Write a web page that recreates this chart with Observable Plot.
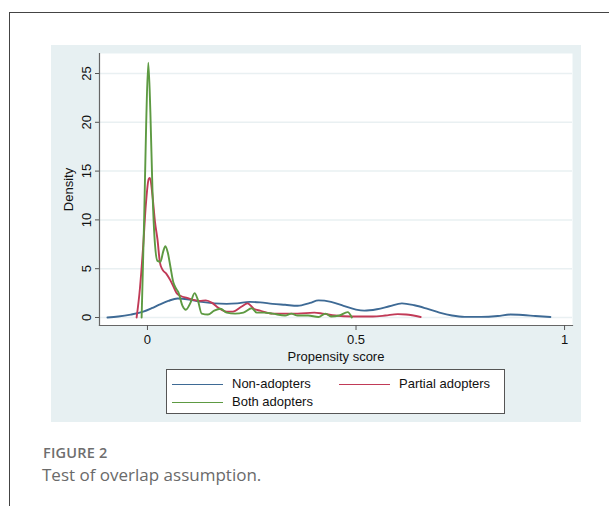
<!DOCTYPE html>
<html>
<head>
<meta charset="utf-8">
<script src="https://cdn.jsdelivr.net/npm/d3@7"></script>
<script src="https://cdn.jsdelivr.net/npm/@observablehq/plot@0.6"></script>
<style>
  html, body { margin: 0; padding: 0; background: #fff; }
  #page { position: relative; width: 609px; height: 506px; overflow: hidden; font-family: "Liberation Sans", Arial, sans-serif; }
  #frameTop { position: absolute; left: 9px; top: 12px; width: 620px; height: 0; border-top: 1.5px solid #444; }
  #frameLeft { position: absolute; left: 9px; top: 12px; width: 0; height: 520px; border-left: 1.5px solid #444; }
  #panel { position: absolute; left: 51px; top: 45px; width: 530px; height: 377px; background: #e7f0f2; }
  #panel svg text { font-size: 13px; }
  #legend { position: absolute; left: 166px; top: 369px; width: 337px; height: 43px; background: #fff; border: 1px solid #555; font-size: 13px; color: #111; }
  .item { position: absolute; height: 16px; line-height: 16px; white-space: nowrap; }
  .swatch { position: absolute; top: 8px; width: 51px; height: 0; border-top: 1.5px solid; }
  .item span { position: absolute; left: 60px; top: 0; }
  #figlabel { position: absolute; left: 43px; top: 443px; font-family: "Open Sans", sans-serif; font-weight: 600; font-size: 14.5px; color: #6e6e6e; letter-spacing: 0.2px; }
  #figcaption { position: absolute; left: 42px; top: 463px; font-family: "Open Sans", sans-serif; font-weight: 400; font-size: 17px; color: #6a6a6a; }
</style>
</head>
<body>
<div id="page">
  <div id="frameTop"></div>
  <div id="frameLeft"></div>
  <div id="panel"></div>
  <div id="legend"></div>
  <div id="figlabel">FIGURE 2</div>
  <div id="figcaption">Test of overlap assumption.</div>
</div>
<script>
// ---- Data ----
const seriesNames = ["Non-adopters", "Partial adopters", "Both adopters"];
const seriesColors = ["#3e6a95", "#c13a57", "#5d9a42"];

const nonX = [-0.096, -0.07, -0.04, -0.01, 0.01, 0.03, 0.05, 0.072, 0.1, 0.13, 0.16, 0.19, 0.215, 0.245, 0.27, 0.3, 0.33, 0.36, 0.39, 0.41, 0.44, 0.47, 0.5, 0.52, 0.55, 0.58, 0.61, 0.64, 0.67, 0.7, 0.73, 0.76, 0.8, 0.84, 0.87, 0.9, 0.93, 0.966];
const nonY = [0, 0.1, 0.3, 0.6, 0.95, 1.35, 1.7, 1.95, 1.85, 1.6, 1.45, 1.4, 1.45, 1.6, 1.55, 1.4, 1.3, 1.2, 1.5, 1.75, 1.6, 1.2, 0.8, 0.7, 0.85, 1.15, 1.45, 1.25, 0.9, 0.5, 0.2, 0.06, 0.06, 0.15, 0.3, 0.25, 0.15, 0.05];

const partialX = [-0.026, -0.018, -0.01, -0.004, 0.003, 0.006, 0.012, 0.018, 0.024, 0.03, 0.036, 0.045, 0.055, 0.062, 0.07, 0.08, 0.095, 0.11, 0.125, 0.14, 0.155, 0.17, 0.19, 0.205, 0.225, 0.24, 0.255, 0.27, 0.3, 0.33, 0.36, 0.4, 0.42, 0.45, 0.49, 0.54, 0.57, 0.6, 0.62, 0.655];
const partialY = [0, 3, 7.5, 11.5, 14.2, 14.3, 12.5, 9.8, 8, 5.6, 4.9, 4.5, 3.8, 3.2, 2.5, 2.2, 2.0, 1.8, 1.7, 1.75, 1.5, 1.0, 0.6, 0.6, 1.1, 1.45, 0.9, 0.7, 0.4, 0.4, 0.4, 0.5, 0.4, 0.2, 0.1, 0.1, 0.2, 0.35, 0.3, 0.05];

const bothX = [-0.014, -0.008, -0.003, 0.002, 0.007, 0.012, 0.018, 0.024, 0.031, 0.038, 0.043, 0.049, 0.055, 0.062, 0.068, 0.074, 0.084, 0.092, 0.103, 0.113, 0.12, 0.13, 0.145, 0.16, 0.175, 0.19, 0.21, 0.23, 0.25, 0.262, 0.28, 0.3, 0.33, 0.345, 0.36, 0.385, 0.41, 0.427, 0.44, 0.46, 0.48, 0.49];
const bothY = [0, 10, 20, 26.1, 21, 13, 7.5, 5.8, 5.7, 6.8, 7.3, 6.6, 5.2, 3.6, 3.0, 2.6, 1.2, 0.8, 1.5, 2.5, 1.9, 0.4, 0.3, 0.7, 0.9, 0.5, 0.4, 0.5, 0.95, 0.5, 0.5, 0.4, 0.2, 0.4, 0.2, 0.2, 0.05, 0.4, 0.1, 0.2, 0.55, 0];

const xTicks = [0, 0.5, 1];
const xTickLabels = ["0", "0.5", "1"];
const yTicks = [0, 5, 10, 15, 20, 25];

// ---- Build table ----
const rows = [];
[[nonX, nonY], [partialX, partialY], [bothX, bothY]].forEach(([xs, ys], i) => {
  xs.forEach((x, j) => rows.push({series: seriesNames[i], x, y: ys[j]}));
});

const chart = Plot.plot({
  width: 530,
  height: 377,
  marginLeft: 48,
  marginRight: 9,
  marginTop: 8,
  marginBottom: 97,
  style: {background: "transparent", fontSize: "13px", fontFamily: "'Liberation Sans', Arial, sans-serif", color: "#111"},
  x: {domain: [-0.115, 1.019]},
  y: {domain: [-0.82, 27.05]},
  color: {domain: seriesNames, range: seriesColors},
  marks: [
    Plot.frame({fill: "white", stroke: null}),
    Plot.gridY(yTicks, {stroke: "#e9f0f2", strokeOpacity: 1, strokeWidth: 1.5}),
    Plot.line(rows, {x: "x", y: "y", z: "series", stroke: "series", strokeWidth: 1.9, curve: "monotone-x"}),
    Plot.frame({anchor: "left", stroke: "#666", strokeWidth: 1.2}),
    Plot.frame({anchor: "bottom", stroke: "#666", strokeWidth: 1.2}),
    Plot.axisX(xTicks, {tickFormat: (d, i) => xTickLabels[i], tickSize: 5, tickPadding: 4, stroke: "#555", fontSize: 13, label: "Propensity score", labelArrow: "none", labelAnchor: "center", labelOffset: 35}),
    Plot.axisY(yTicks, {tickRotate: -90, tickSize: 4, tickPadding: 5, stroke: "#555", fontSize: 13, label: "Density", labelArrow: "none", labelAnchor: "center", labelOffset: 36})
  ]
});
document.getElementById("panel").appendChild(chart);

// ---- Legend ----
const legend = document.getElementById("legend");
const legendPos = [[5, 6], [172, 6], [5, 24]];
seriesNames.forEach((name, i) => {
  const item = document.createElement("div");
  item.className = "item";
  item.style.left = legendPos[i][0] + "px";
  item.style.top = legendPos[i][1] + "px";
  const sw = document.createElement("div");
  sw.className = "swatch";
  sw.style.borderTopColor = seriesColors[i];
  sw.style.left = "0px";
  const t = document.createElement("span");
  t.textContent = name;
  item.appendChild(sw);
  item.appendChild(t);
  legend.appendChild(item);
});
</script>
</body>
</html>
